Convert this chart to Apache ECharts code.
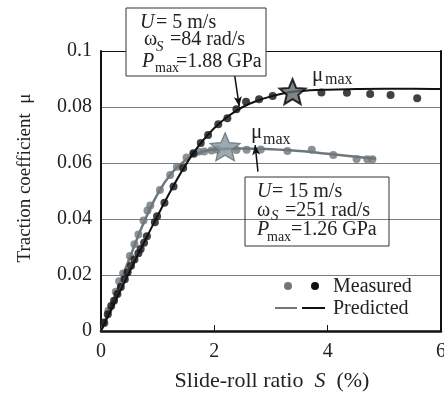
<!DOCTYPE html>
<html><head><meta charset="utf-8">
<script src="https://cdn.jsdelivr.net/npm/echarts@6/dist/echarts.min.js"></script>
<style>html,body{margin:0;padding:0;background:#fff}#c{width:444px;height:396px}</style>
</head><body><div id="c"></div>
<script>
// ---- data ----
const xTickValues = [0, 2, 4, 6];
const yTickLabels = ['0', '0.02', '0.04', '0.06', '0.08', '0.1'];

const blackMeasuredS  = [0.05,0.12,0.18,0.23,0.29,0.35,0.42,0.47,0.53,0.59,0.66,0.70,0.76,0.81,0.95,0.99,1.12,1.28,1.45,1.63,1.76,1.89,2.07,2.23,2.39,2.56,2.79,3.03,3.89,4.34,4.75,5.11,5.58];
const blackMeasuredMu = [0.0030,0.0060,0.0089,0.0108,0.0132,0.0157,0.0185,0.0210,0.0233,0.0255,0.0278,0.0293,0.0315,0.0338,0.0388,0.0410,0.0458,0.0516,0.0582,0.0635,0.0671,0.0700,0.0738,0.0760,0.0792,0.0819,0.0828,0.0839,0.0852,0.0851,0.0846,0.0843,0.0831];

const grayMeasuredS  = [0.06,0.13,0.26,0.32,0.39,0.51,0.59,0.66,0.75,0.82,0.87,1.04,1.22,1.34,1.51,1.64,1.72,1.82,1.95,2.05,2.39,2.57,2.82,3.29,3.72,4.10,4.51,4.70,4.79];
const grayMeasuredMu = [0.0028,0.0072,0.0140,0.0178,0.0205,0.0268,0.0310,0.0345,0.0395,0.0430,0.0448,0.0504,0.0557,0.0587,0.0620,0.0632,0.0640,0.0641,0.0645,0.0647,0.0646,0.0647,0.0648,0.0643,0.0647,0.0629,0.0614,0.0613,0.0613];

const blackPredS  = [0,0.25,0.5,0.75,1.0,1.25,1.5,1.75,2.0,2.25,2.5,2.75,3.0,3.25,3.5,4.0,4.5,5.0,5.5,6.0];
const blackPredMu = [0,0.0105,0.0210,0.0312,0.0412,0.0508,0.0595,0.0668,0.0725,0.0768,0.0800,0.0822,0.0838,0.0850,0.0857,0.0862,0.0864,0.0865,0.0865,0.0864];

const grayPredS  = [0,0.25,0.5,0.75,1.0,1.25,1.5,1.75,2.0,2.5,3.0,3.5,4.0,4.5,4.85];
const grayPredMu = [0,0.0128,0.0258,0.0385,0.0490,0.0565,0.0612,0.0638,0.0648,0.0652,0.0649,0.0643,0.0633,0.0622,0.0615];

const blackStar = [3.38, 0.0855];
const grayStar  = [2.19, 0.0658];
const arrowBlack = [[2.36, 0.0911], [2.44, 0.0802]];
const arrowGray  = [[2.77, 0.0569], [2.72, 0.0664]];

// ---- helpers ----
const FONT = "'Liberation Serif','Times New Roman',serif";
const BLACK = '#111111', GRAY = '#6d777c';
const zip = (a, b) => a.map((v, i) => [v, b[i]]);
function starPath() {
  const pts = [];
  for (let i = 0; i < 10; i++) {
    const r = i % 2 ? 0.45 : 1;
    const a = -Math.PI / 2 + i * Math.PI / 5;
    pts.push((r * Math.cos(a)).toFixed(4) + ',' + (r * Math.sin(a)).toFixed(4));
  }
  return 'path://M' + pts.join('L') + 'Z';
}
const STAR = starPath();

function txt(x, y, s, size, opts) {
  return {
    type: 'text', x: x, y: y, z: 120,
    style: { text: s, font: (opts && opts.italic ? 'italic ' : '') + size + 'px ' + FONT, fill: '#222', align: 'left', verticalAlign: 'middle' }
  };
}

const chart = echarts.init(document.getElementById('c'), null, { renderer: 'canvas' });
const option = {
  animation: false,
  grid: { left: 101, right: 3, top: 51, bottom: 65, containLabel: false, outerBoundsMode: 'none' },
  xAxis: [{
    type: 'value', min: xTickValues[0], max: xTickValues[xTickValues.length - 1], interval: 2,
    axisLine: { lineStyle: { color: BLACK, width: 2.5 } },
    axisTick: { show: true, inside: true, length: 6, lineStyle: { color: BLACK, width: 1 } },
    axisLabel: { margin: 11, fontSize: 20, fontFamily: FONT, color: '#222' },
    splitLine: { show: false }
  }, {
    type: 'value', position: 'top', min: 0, max: 6, z: 5,
    axisLine: { show: true, onZero: false, lineStyle: { color: BLACK, width: 1.2 } },
    axisTick: { show: false }, axisLabel: { show: false }, splitLine: { show: false }
  }],
  yAxis: [{
    type: 'value', min: 0, max: 0.1, interval: 0.02,
    axisLine: { show: true, lineStyle: { color: BLACK, width: 2 } },
    axisTick: { show: false },
    axisLabel: { margin: 9, fontSize: 20, fontFamily: FONT, color: '#222',
      formatter: v => yTickLabels[Math.round(v / 0.02)] },
    splitLine: { lineStyle: { color: '#7a7a7a', width: 1 } }
  }, {
    type: 'value', position: 'right', min: 0, max: 0.1, z: 5,
    axisLine: { show: true, onZero: false, lineStyle: { color: BLACK, width: 2 } },
    axisTick: { show: false }, axisLabel: { show: false }, splitLine: { show: false }
  }],
  series: [
    { type: 'line', data: zip(grayPredS, grayPredMu), smooth: 0.4, showSymbol: false,
      lineStyle: { color: GRAY, width: 2.5 }, z: 2 },
    { type: 'scatter', data: zip(grayMeasuredS, grayMeasuredMu), symbol: 'circle', symbolSize: 8,
      itemStyle: { color: GRAY }, z: 3 },
    { type: 'line', data: zip(blackPredS, blackPredMu), smooth: 0.4, showSymbol: false,
      lineStyle: { color: BLACK, width: 2 }, z: 4 },
    { type: 'scatter', data: zip(blackMeasuredS, blackMeasuredMu), symbol: 'circle', symbolSize: 8,
      itemStyle: { color: BLACK }, z: 5 },
    { type: 'scatter', data: [grayStar], symbol: STAR, symbolSize: [30, 28],
      itemStyle: { color: '#84929b', borderColor: '#5f6b71', borderWidth: 1.2 }, z: 6 },
    { type: 'scatter', data: [blackStar], symbol: STAR, symbolSize: [26, 25],
      itemStyle: { color: '#5d666b', borderColor: '#000', borderWidth: 2 }, z: 6 },
    { type: 'line', data: [], z: 7,
      markLine: {
        silent: true, animation: false, symbol: ['none', 'arrow'], symbolSize: [6, 10],
        label: { show: false },
        lineStyle: { color: BLACK, width: 1.5, type: 'solid' },
        data: [
          [{ coord: arrowBlack[0] }, { coord: arrowBlack[1] }],
          [{ coord: arrowGray[0] }, { coord: arrowGray[1] }]
        ]
      } }
  ],
  graphic: [
    // annotation box 1
    { type: 'rect', z: 110, shape: { x: 126, y: 8, width: 140, height: 68 },
      style: { fill: '#fff', stroke: '#333', lineWidth: 1 } },
    txt(140, 22.5, 'U', 20, { italic: true }),
    txt(156, 22.5, '= 5 m/s', 20),
    txt(144, 40, 'ω', 20),
    txt(156, 47.5, 'S', 15, { italic: true }),
    txt(170, 40, '=84 rad/s', 20),
    txt(142, 61.5, 'P', 20, { italic: true }),
    txt(155, 68.5, 'max', 14),
    txt(176, 61.5, '=1.88 GPa', 20),
    // annotation box 2
    { type: 'rect', z: 110, shape: { x: 245, y: 177, width: 144, height: 69 },
      style: { fill: 'none', stroke: '#333', lineWidth: 1 } },
    txt(257, 191.5, 'U', 20, { italic: true }),
    txt(272, 191.5, '= 15 m/s', 20),
    txt(257, 210.8, 'ω', 20),
    txt(271, 216.3, 'S', 15, { italic: true }),
    txt(285, 210.8, '=251 rad/s', 20),
    txt(257, 230, 'P', 20, { italic: true }),
    txt(267, 237.6, 'max', 14),
    txt(291, 230, '=1.26 GPa', 20),
    // mu_max labels
    txt(312, 75, 'μ', 21),
    txt(325, 79.6, 'max', 16),
    txt(251, 132.7, 'μ', 21),
    txt(263, 139.6, 'max', 16),
    // legend
    { type: 'circle', z: 120, shape: { cx: 288, cy: 286, r: 4 }, style: { fill: GRAY } },
    { type: 'circle', z: 120, shape: { cx: 315, cy: 286, r: 4 }, style: { fill: BLACK } },
    txt(333, 286.5, 'Measured', 20),
    { type: 'line', z: 120, shape: { x1: 275, y1: 308, x2: 297, y2: 308 }, style: { stroke: GRAY, lineWidth: 2 } },
    { type: 'line', z: 120, shape: { x1: 302, y1: 308, x2: 325, y2: 308 }, style: { stroke: BLACK, lineWidth: 2 } },
    txt(333, 308.3, 'Predicted', 20),
    // axis titles
    { type: 'text', z: 120, x: 272, y: 381, style: {
        text: '{n|Slide-roll ratio  }{i|S}{n|  (%)}', align: 'center', verticalAlign: 'middle',
        rich: { n: { fontSize: 22, fontFamily: FONT, fill: '#222' },
                i: { fontSize: 22, fontFamily: FONT, fontStyle: 'italic', fill: '#222' } } } },
    { type: 'text', z: 120, x: 25, y: 178, rotation: Math.PI / 2, style: {
        text: 'Traction coefficient  μ', align: 'center', verticalAlign: 'middle',
        font: '19px ' + FONT, fill: '#222' } }
  ]
};
chart.setOption(option);
</script>
</body></html>
